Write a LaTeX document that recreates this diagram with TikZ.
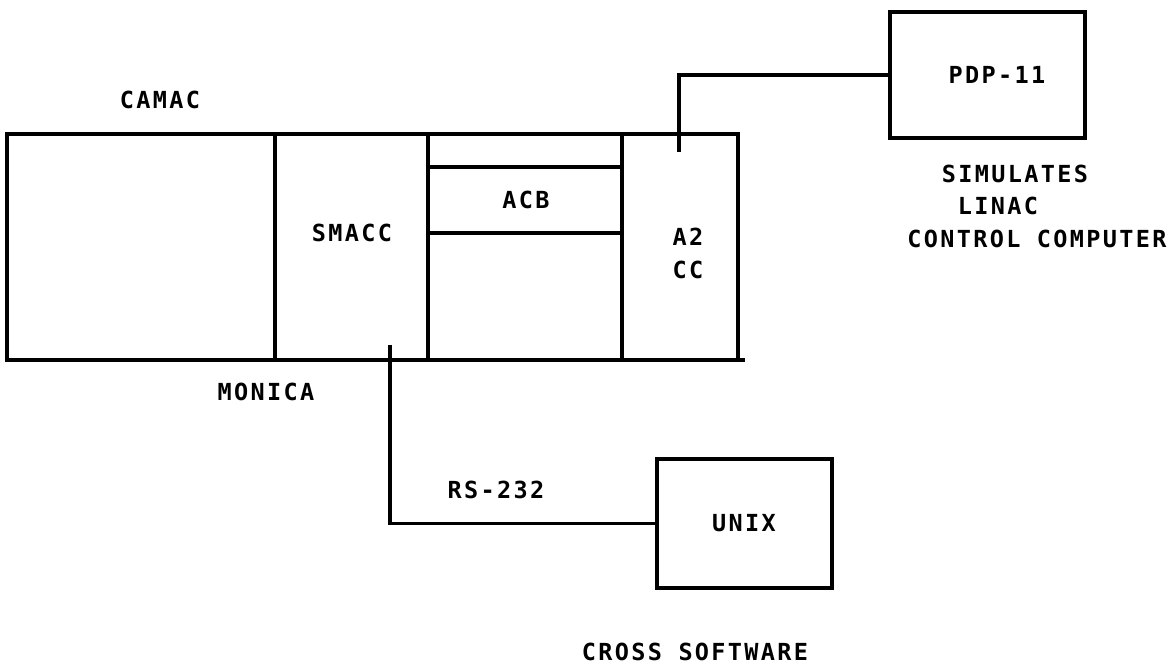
\documentclass[tikz,border=0pt]{standalone}
\usepackage{fontspec}
\newfontfamily\plotfont[LetterSpace=10]{DejaVu Sans Mono Bold}
\begin{document}
\begin{tikzpicture}[x=1pt,y=-1pt,line width=3.3pt,
  lbl/.style={font=\plotfont\fontsize{23.5}{33}\selectfont,inner sep=0pt,align=center},
  frame/.style={draw,rectangle,inner sep=0pt,outer sep=0pt,anchor=north west},
  wire/.style={line width=3.3pt}]
\useasboundingbox (0,0) rectangle (1173,668);
% CAMAC crate and modules
\node[frame,minimum width=731pt,minimum height=226pt] (crate) at (7,134) {};
\node[frame,minimum width=153pt,minimum height=226pt] (smacc) at (275,134) {};
\node[frame,minimum width=194pt,minimum height=226pt] (acbcol) at (428,134) {};
\node[frame,minimum width=116pt,minimum height=226pt] (a2cc) at (622,134) {};
\node[frame,minimum width=194pt,minimum height=66pt] (acb) at (428,167) {};
\coordinate (crateend) at (745,360);
\draw[wire] (crate.south east) -- (crateend);
% external computers
\node[frame,minimum width=195pt,minimum height=126pt] (pdp) at (890,12) {};
\node[frame,minimum width=175pt,minimum height=129pt] (unix) at (657,459) {};
% connectors
\coordinate (a2tap) at (679,152);
\coordinate (smtap) at (390,345);
\draw[wire] (a2tap) |- (pdp.west);
\draw[wire] (smtap) |- (unix.west);
% labels
\node[lbl] (camac) at (160,100) {CAMAC};
\node[lbl] (monica) at (266,392) {MONICA};
\node[lbl] (smacclabel) at (352,233) {SMACC};
\node[lbl] (acblabel) at (526,200) {ACB};
\node[lbl] (a2cclabel) at (688,253) {A2\\CC};
\node[lbl] (pdplabel) at (997,75) {PDP-11};
\node[lbl] (sim1) at (1015,174) {SIMULATES};
\node[lbl] (sim2) at (998,206) {LINAC};
\node[lbl] (sim3) at (1037,239) {CONTROL COMPUTER};
\node[lbl] (unixlabel) at (744,523) {UNIX};
\node[lbl] (rs) at (496,490) {RS-232};
\node[lbl] (cross) at (695,652) {CROSS SOFTWARE};
\end{tikzpicture}
\end{document}
